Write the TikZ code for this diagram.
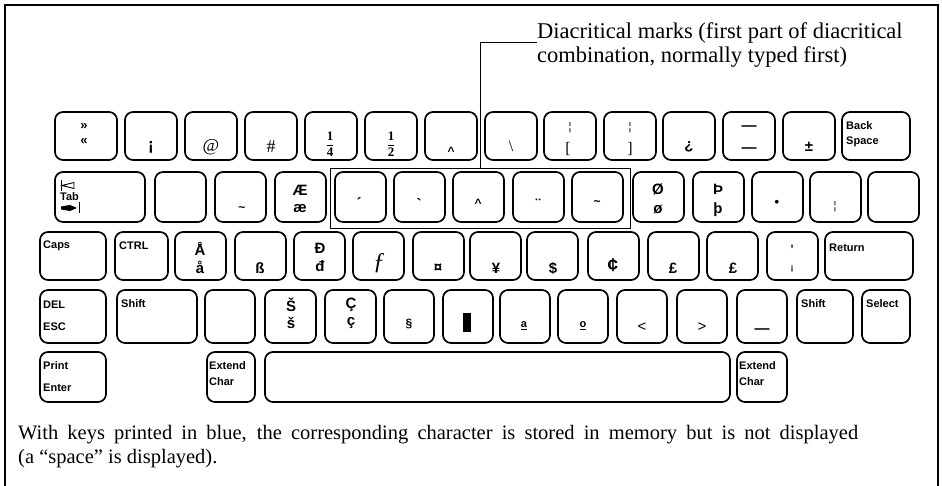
\documentclass[tikz,border=0pt]{standalone}
\usepackage{fontspec}
\setmainfont{Liberation Serif}
\newfontfamily\kf{Liberation Sans}
\begin{document}
\begin{tikzpicture}[x=1pt,y=-1pt,
  kb/.style={draw, line width=1.7pt, rounded corners=8pt, inner sep=0pt, outer sep=0pt, anchor=north west},
  lab/.style={font=\kf\bfseries\fontsize{11}{11}\selectfont, anchor=west, inner sep=0pt},
  ch/.style={font=\kf\bfseries\fontsize{15}{15}\selectfont, inner sep=0pt},
  chs/.style={font=\kf\bfseries\fontsize{12}{12}\selectfont, inner sep=0pt},
  sr/.style={font=\fontsize{18}{18}\selectfont, inner sep=0pt},
  thinbar/.style={font=\kf\fontsize{11}{11}\selectfont, inner sep=0pt}]
\useasboundingbox (0,0) rectangle (942,486);
\newcommand\kk[5]{\node[kb,minimum width=#4pt,minimum height=#5pt] (#1) at (#2,#3) {};}
% frame
\draw[line width=1.2pt] (5,486) -- (5,5) -- (938,5) -- (938,486);
% ---------- row 1
\kk{a0}{55}{112}{62}{48}
\kk{a1}{125}{112}{52}{48}
\kk{a2}{185}{112}{52}{48}
\kk{a3}{245}{112}{52}{48}
\kk{a4}{305}{112}{52}{48}
\kk{a5}{365}{112}{52}{48}
\kk{a6}{425}{112}{52}{48}
\kk{a7}{485}{112}{52}{48}
\kk{a8}{544}{112}{52}{48}
\kk{a9}{604}{112}{52}{48}
\kk{a10}{663}{112}{52}{48}
\kk{a11}{723}{112}{52}{48}
\kk{a12}{783}{112}{52}{48}
\kk{a13}{842}{112}{68}{48}
\node[font=\kf\bfseries\fontsize{13}{13}\selectfont, inner sep=0pt] (t0a) at (84,127) {»};
\node[font=\kf\bfseries\fontsize{13}{13}\selectfont, inner sep=0pt] (t0b) at (84,142) {«};
\node[font=\kf\bfseries\fontsize{17}{17}\selectfont, inner sep=0pt] (t1) at (151,147) {¡};
\node[sr] (t2) at (211,147) {@};
\node[sr] (t3) at (271,147) {\#};
\node[inner sep=0pt,font=\fontsize{13}{13}\selectfont] (t4) at (330,144) {$\displaystyle\frac{\mathbf{1}}{\mathbf{4}}$};
\node[inner sep=0pt,font=\fontsize{13}{13}\selectfont] (t5) at (391,144) {$\displaystyle\frac{\mathbf{1}}{\mathbf{2}}$};
\node[chs] (t6) at (451,151) {\char"5E};
\node[thinbar,font=\fontsize{16}{16}\selectfont] (t7) at (511,146) {\char"5C};
\node[thinbar] (t8a) at (570,128) {¦};
\node[thinbar,font=\fontsize{16}{16}\selectfont] (t8b) at (568,149) {[};
\node[thinbar] (t9a) at (630,128) {¦};
\node[thinbar,font=\fontsize{16}{16}\selectfont] (t9b) at (630,149) {]};
\node[ch] (t10) at (689,147) {¿};
\node[ch] (t11a) at (749,128) {—};
\node[ch] (t11b) at (749,150) {—};
\node[ch] (t12) at (809,147) {±};
\node[lab] (t13a) at (846,126) {Back};
\node[lab] (t13b) at (846,142) {Space};
% ---------- row 2
\kk{b0}{55}{172}{90}{50}
\kk{b1}{155}{172}{51}{50}
\kk{b2}{215}{172}{51}{50}
\kk{b3}{275}{172}{51}{50}
\kk{b4}{335}{172}{51}{50}
\kk{b5}{394}{172}{51}{50}
\kk{b6}{453}{172}{51}{50}
\kk{b7}{513}{172}{51}{50}
\kk{b8}{572}{172}{51}{50}
\kk{b9}{633}{172}{51}{50}
\kk{b10}{693}{172}{51}{50}
\kk{b11}{752}{172}{51}{50}
\kk{b12}{810}{172}{51}{50}
\kk{b13}{868}{172}{51}{50}
\node[draw, line width=0.8pt, inner sep=0pt, minimum width=300pt, minimum height=60pt, anchor=north west] (dbox) at (330,168) {};
% Tab symbols
\draw[line width=1pt] (61,180) -- (61,191);
\draw[line width=0.9pt] (62,185.5) -- (74,182.5) -- (74,188.5) -- cycle;
\node[lab] (tab) at (60,197) {Tab};
\fill (61,206.5) -- (70,205) -- (77,208) -- (70,211) -- (61,209.5) -- cycle;
\draw[line width=1pt] (79,202.5) -- (79,213.5);
\node[chs] (u2) at (242,209) {\char"7E};
\node[ch] (u3a) at (300,190) {Æ};
\node[ch] (u3b) at (300,209) {æ};
\node[ch] (u4) at (359,203) {\char"B4};
\node[ch] (u5) at (419,204) {\char"60};
\node[chs] (u6) at (478,203) {\char"5E};
\node[ch] (u7) at (538,204) {\char"A8};
\node[chs] (u8) at (597,203) {\char"7E};
\node[ch] (u9a) at (658,189) {Ø};
\node[ch] (u9b) at (658,210) {ø};
\node[ch] (u10a) at (718,189) {Þ};
\node[ch] (u10b) at (718,210) {þ};
\node[font=\kf\bfseries\fontsize{13}{13}\selectfont, inner sep=0pt] (u11) at (777,203) {•};
\node[thinbar] (u12) at (835,207) {¦};
% ---------- row 3
\kk{c0}{40}{232}{66}{48}
\kk{c1}{115}{232}{53}{48}
\kk{c2}{175}{232}{51}{48}
\kk{c3}{235}{232}{51}{48}
\kk{c4}{294}{232}{51}{48}
\kk{c5}{353}{232}{51}{48}
\kk{c6}{413}{232}{51}{48}
\kk{c7}{470}{232}{51}{48}
\kk{c8}{527}{232}{51}{48}
\kk{c9}{588}{232}{51}{48}
\kk{c10}{648}{232}{51}{48}
\kk{c11}{707}{232}{51}{48}
\kk{c12}{767}{232}{51}{48}
\kk{c13}{825}{232}{88}{48}
\node[lab] (v0) at (43,246) {Caps};
\node[lab] (v1) at (119,246) {CTRL};
\node[ch] (v2a) at (200,249) {Å};
\node[ch] (v2b) at (200,267) {å};
\node[ch] (v3) at (260,268) {ß};
\node[ch] (v4a) at (320,248) {Đ};
\node[ch] (v4b) at (320,266) {đ};
\node[inner sep=0pt,font=\itshape\fontsize{24}{24}\selectfont] (v5) at (379,263) {ƒ};
\node[ch] (v6) at (438,268) {¤};
\node[ch] (v7) at (496,268) {¥};
\node[ch] (v8) at (553,268) {\$};
\node[ch,font=\kf\bfseries\fontsize{19}{19}\selectfont] (v9) at (613,265) {¢};
\node[ch] (v10) at (673,268) {£};
\node[ch] (v11) at (733,268) {£};
\node[chs] (v12a) at (792,249) {’};
\node[chs,font=\kf\bfseries\fontsize{9}{9}\selectfont] (v12b) at (792,269) {¡};
\node[lab] (v13) at (829,248) {Return};
% ---------- row 4
\kk{d0}{40}{290}{66}{53}
\kk{d1}{117}{290}{80}{53}
\kk{d2}{205}{290}{50}{53}
\kk{d3}{265}{290}{51}{53}
\kk{d4}{325}{290}{51}{53}
\kk{d5}{384}{290}{50}{53}
\kk{d6}{443}{290}{50}{53}
\kk{d7}{500}{290}{50}{53}
\kk{d8}{558}{290}{50}{53}
\kk{d9}{617}{290}{50}{53}
\kk{d10}{677}{290}{50}{53}
\kk{d11}{737}{290}{50}{53}
\kk{d12}{797}{290}{56}{53}
\kk{d13}{862}{290}{48}{53}
\node[lab] (w0a) at (43,305) {DEL};
\node[lab] (w0b) at (43,327) {ESC};
\node[lab] (w1) at (121,304) {Shift};
\node[ch] (w3a) at (291,305) {Š};
\node[ch] (w3b) at (291,323) {š};
\node[ch] (w4a) at (351,305) {Ç};
\node[ch] (w4b) at (351,323) {ç};
\node[chs] (w5) at (409,324) {§};
\node[fill, inner sep=0pt, minimum width=8pt, minimum height=19pt] (w6) at (467,322) {};
\node[font=\kf\bfseries\fontsize{11}{11}\selectfont, inner sep=0pt] (w7) at (524,326) {\underline{a}};
\node[font=\kf\bfseries\fontsize{11}{11}\selectfont, inner sep=0pt] (w8) at (583,326) {\underline{o}};
\node[ch,font=\kf\fontsize{15}{15}\selectfont] (w9) at (642,327) {<};
\node[ch,font=\kf\fontsize{15}{15}\selectfont] (w10) at (702,327) {>};
\node[ch] (w11) at (762,331) {—};
\node[lab] (w12) at (801,304) {Shift};
\node[lab] (w13) at (866,304) {Select};
% ---------- row 5
\kk{e0}{40}{352}{66}{50}
\kk{e1}{207}{352}{48}{50}
\kk{e2}{265}{352}{465}{50}
\kk{e3}{737}{352}{50}{50}
\node[lab] (x0a) at (43,366) {Print};
\node[lab] (x0b) at (43,388) {Enter};
\node[lab] (x1a) at (209,366) {Extend};
\node[lab] (x1b) at (209,382) {Char};
\node[lab] (x3a) at (739,366) {Extend};
\node[lab] (x3b) at (739,382) {Char};
% ---------- annotation
\node[anchor=north west, inner sep=0pt, align=left, font=\fontsize{22.5}{24}\selectfont] (dtext) at (537,22) {Diacritical marks (first part of diacritical\\combination, normally typed first)};
\coordinate (lc) at (480,42);
\draw[line width=0.9pt] (lc |- dbox.north) -- (lc) -- (dtext.west |- lc);
% ---------- caption
\node[anchor=west, inner sep=0pt, font=\fontsize{20.5}{20.5}\selectfont] (cap1) at (18,435) {\makebox[840pt][s]{With keys printed in blue, the corresponding character is stored in memory but is not displayed}};
\node[anchor=west, inner sep=0pt, font=\fontsize{20.5}{20.5}\selectfont] (cap2) at (18,459) {(a “space” is displayed).};
\end{tikzpicture}
\end{document}
